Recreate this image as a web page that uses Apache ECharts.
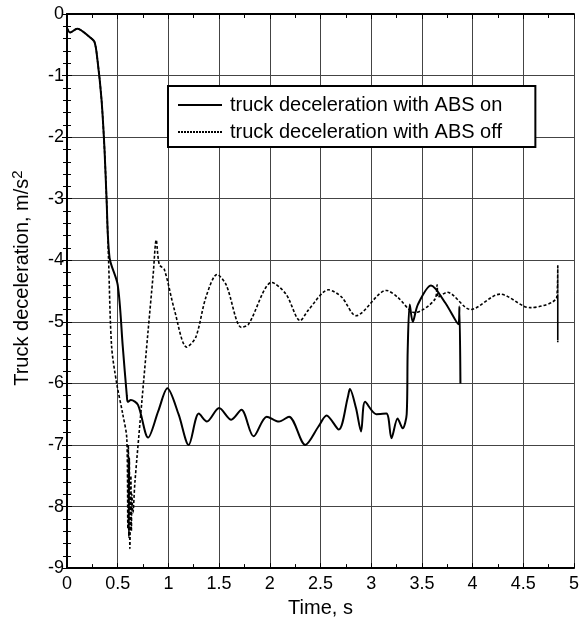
<!DOCTYPE html>
<html>
<head>
<meta charset="utf-8">
<script src="https://cdn.jsdelivr.net/npm/echarts@6/dist/echarts.min.js"></script>
<style>
html, body { margin: 0; padding: 0; background: #fff; }
#chart { width: 582px; height: 623px; }
</style>
</head>
<body>
<div id="chart"></div>
<script>
// 刻度
var xTicks = [0, 0.5, 1, 1.5, 2, 2.5, 3, 3.5, 4, 4.5, 5];
var yTicks = [0, -1, -2, -3, -4, -5, -6, -7, -8, -9];

// ABS on
var timeOn = [0, 0.03, 0.1, 0.22, 0.27, 0.3, 0.34, 0.37, 0.39, 0.42, 0.5, 0.55, 0.59, 0.6, 0.63, 0.7, 0.8, 0.9, 0.99, 1.1, 1.2,
	1.3, 1.38, 1.5, 1.62, 1.72, 1.84, 1.97, 2.09, 2.19, 2.35, 2.48, 2.56, 2.68, 2.77, 2.79, 2.85, 2.9, 2.94, 3.05, 3.15,
	3.2, 3.26, 3.31, 3.35, 3.36, 3.38, 3.41, 3.46, 3.59, 3.73, 3.86, 3.87, 3.88];
var decelOn = [-0.23, -0.3, -0.24, -0.37, -0.45, -0.74, -1.38, -2.2, -3.0, -3.96, -4.4, -5.4, -6.2, -6.3, -6.27, -6.35, -6.88, -6.45, -6.08, -6.5, -7.0,
	-6.49, -6.62, -6.4, -6.59, -6.43, -6.86, -6.54, -6.62, -6.54, -7.0, -6.7, -6.52, -6.75, -6.22, -6.09, -6.4, -6.78, -6.3, -6.5, -6.49,
	-6.89, -6.57, -6.73, -6.5, -5.46, -4.72, -5.0, -4.72, -4.41, -4.69, -5.04, -4.75, -6.0];

// ABS off
var timeOff = [0, 0.03, 0.1, 0.22, 0.27, 0.3, 0.34, 0.37, 0.39, 0.41, 0.44, 0.49, 0.55, 0.59, 0.6, 0.605, 0.61, 0.615, 0.62, 0.63, 0.635, 0.64,
	0.65, 0.67, 0.74, 0.8, 0.85, 0.88, 0.91, 0.96, 1.06, 1.18, 1.27, 1.37, 1.48, 1.57, 1.72, 1.79, 2.02, 2.16, 2.3, 2.38,
	2.58, 2.71, 2.85, 3.15, 3.26, 3.43, 3.63, 3.65, 3.66, 3.75, 3.98, 4.27, 4.51, 4.57, 4.83, 4.84, 4.84, 4.84, 4.84, 4.84];
var decelOff = [-0.23, -0.3, -0.24, -0.37, -0.45, -0.74, -1.38, -2.2, -3.0, -4.0, -5.4, -6.0, -6.5, -6.9, -8.36, -7.0, -8.5, -7.2, -8.68, -7.5, -8.4, -7.8,
	-8.1, -7.6, -6.26, -5.14, -4.23, -3.67, -4.07, -4.15, -4.81, -5.41, -5.25, -4.6, -4.23, -4.4, -5.09, -5.04, -4.36, -4.55, -4.98, -4.81,
	-4.48, -4.6, -4.9, -4.49, -4.6, -4.85, -4.63, -4.4, -4.6, -4.52, -4.8, -4.55, -4.75, -4.77, -4.6, -4.07, -5.33, -4.1, -5.3, -4.6];

var seriesNames = ['truck deceleration with ABS on', 'truck deceleration with ABS off'];

function pairs(xs, ys) {
	var out = [];
	for (var i = 0; i < xs.length; i++) {
		out.push([xs[i], ys[i]]);
	}
	return out;
}

// 图例里的虚线
function dottedIcon() {
	var p = 'path://';
	for (var x = 0; x < 44; x += 3) {
		p += 'M' + x + ',0H' + (x + 2) + 'V2H' + x + 'Z';
	}
	return p;
}

var fontFam = '"Liberation Sans", Arial, sans-serif';

var myChart = echarts.init(document.getElementById('chart'));

var boxAxis = {
	axisLine: { show: true, lineStyle: { color: '#000', width: 2 } },
	axisTick: { show: true, inside: true, length: 5, lineStyle: { color: '#000' } },
	minorTick: { show: true, length: 4, lineStyle: { color: '#000' } },
	axisLabel: { show: false },
	splitLine: { show: false }
};

var option = {
	animation: false,
	grid: { left: 67, right: 5, top: 14, bottom: 50 },
	legend: {
		orient: 'vertical',
		left: 168,
		top: 86,
		data: [
			{ name: seriesNames[0], icon: 'path://M0,0H44V2H0Z' },
			{ name: seriesNames[1], icon: dottedIcon() }
		],
		backgroundColor: '#fff',
		borderColor: '#000',
		borderWidth: 2,
		borderRadius: 0,
		padding: [9, 33, 5, 10],
		itemGap: 7,
		itemWidth: 44,
		itemHeight: 2,
		textStyle: { color: '#000', fontSize: 20, fontFamily: fontFam, padding: [0, 0, 0, 3] }
	},
	xAxis: [{
		type: 'value',
		min: 0, max: 5, interval: 0.5,
		name: 'Time, s',
		nameLocation: 'middle',
		nameGap: 29,
		nameTextStyle: { color: '#000', fontSize: 20, fontFamily: fontFam },
		axisLine: { show: true, onZero: false, lineStyle: { color: '#000', width: 2 } },
		axisTick: { show: true, inside: true, length: 5, lineStyle: { color: '#000' } },
		minorTick: { show: true, splitNumber: 2, length: 4, lineStyle: { color: '#000' } },
		axisLabel: {
			color: '#000', fontSize: 18, fontFamily: fontFam, margin: 7,
			formatter: function (v) { return xTicks.indexOf(v) >= 0 ? String(v) : ''; }
		},
		splitLine: { show: true, lineStyle: { color: '#444', width: 1 } }
	}, echarts.util.merge({
		type: 'value', position: 'top', min: 0, max: 5, interval: 0.5,
		minorTick: { splitNumber: 2 }
	}, boxAxis)],
	yAxis: [{
		type: 'value',
		min: -9, max: 0, interval: 1,
		name: 'Truck deceleration, m/s{sup|2}',
		nameLocation: 'middle',
		nameGap: 32,
		nameTextStyle: {
			color: '#000', fontSize: 20, fontFamily: fontFam, padding: [0, 0, 0, 26],
			rich: { sup: { fontSize: 15, fontFamily: fontFam, color: '#000', verticalAlign: 'top', padding: [0, 0, 10, 0] } }
		},
		axisLine: { show: true, onZero: false, lineStyle: { color: '#000', width: 2 } },
		axisTick: { show: true, inside: true, length: 5, lineStyle: { color: '#000' } },
		minorTick: { show: true, splitNumber: 5, length: 4, lineStyle: { color: '#000' } },
		axisLabel: {
			color: '#000', fontSize: 18, fontFamily: fontFam, margin: 3,
			formatter: function (v) { return yTicks.indexOf(v) >= 0 ? String(v) : ''; }
		},
		splitLine: { show: true, lineStyle: { color: '#444', width: 1 } }
	}, echarts.util.merge({
		type: 'value', position: 'right', min: -9, max: 0, interval: 1,
		minorTick: { splitNumber: 5 }
	}, boxAxis)],
	series: [{
		name: seriesNames[0],
		type: 'line',
		symbol: 'none',
		smooth: 0.3,
		data: pairs(timeOn, decelOn),
		lineStyle: { color: '#000', width: 2, type: 'solid' },
		itemStyle: { color: '#000' },
		z: 3
	}, {
		name: seriesNames[1],
		type: 'line',
		symbol: 'none',
		smooth: 0.3,
		data: pairs(timeOff, decelOff),
		lineStyle: { color: '#000', width: 1.6, type: [3, 2] },
		itemStyle: { color: '#000' },
		z: 3
	}]
};

myChart.setOption(option);
</script>
</body>
</html>
